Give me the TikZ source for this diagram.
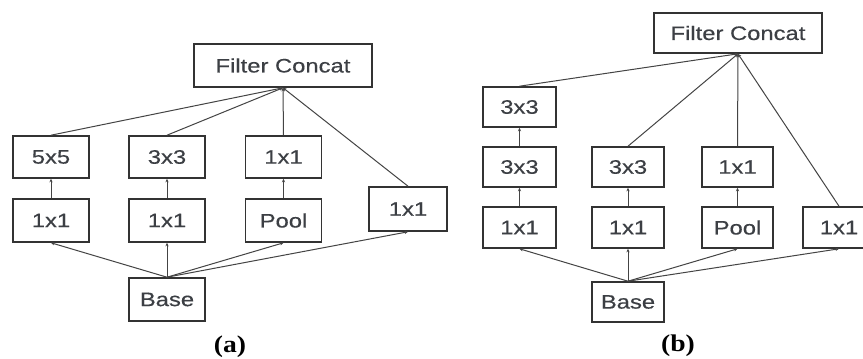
\documentclass[tikz,border=0pt]{standalone}
\usepackage{xcolor}
\usepackage{fontspec}
\usepackage{tikz}
\usetikzlibrary{arrows.meta}
\newfontfamily\boxfont[FakeStretch=1.22,FakeBold=0.4]{Liberation Sans}
\newfontfamily\capfont[FakeStretch=1.15]{Liberation Serif}
\definecolor{figLine}{HTML}{333333}
\definecolor{figText}{HTML}{3C3F44}
\definecolor{figArrow}{HTML}{444444}

\begin{document}
\begin{tikzpicture}[
  x=1pt, y=-1pt,
  layer/.style={draw=figLine, line width=1.6pt, inner sep=0pt,
    font=\boxfont\fontsize{19.5}{21}\selectfont, text=figText,
    minimum width=76pt, minimum height=42pt},
  link/.style={draw=figArrow, line width=1pt,
    -{Stealth[length=3.5pt,width=3.2pt]}},
  caption/.style={font=\capfont\bfseries\fontsize{24}{26}\selectfont, text=black},
]
\useasboundingbox (0,0) rectangle (863,359);
\fill[white] (0,0) rectangle (863,359);

% --- (a) boxes ---
\node[layer, minimum width=178pt, minimum height=43pt] (fcA) at (283,65.5) {Filter Concat};
\node[layer] (a55)   at (51,157)    {5x5};
\node[layer] (a33)   at (167,157)   {3x3};
\node[layer] (a11c)  at (283.5,157) {1x1};
\node[layer, minimum height=43pt] (a11a)  at (51,220.5)    {1x1};
\node[layer, minimum height=43pt] (a11b)  at (167,220.5)   {1x1};
\node[layer, minimum height=43pt] (apool) at (283.5,220.5) {Pool};
\node[layer, minimum width=78pt, minimum height=44pt] (a11d) at (408,209) {1x1};
\node[layer, minimum height=43pt] (baseA) at (167,299.5) {Base};
\node[caption] (capA) at (230,347) {(a)};

% --- (a) connectors ---
\foreach \src/\dst in {baseA/a11a, baseA/a11b, baseA/apool, baseA/a11d,
                       a11a/a55, a11b/a33, apool/a11c,
                       a55/fcA, a33/fcA, a11c/fcA, a11d/fcA} {
  \draw[link] (\src.north) -- (\dst.south);
}

% --- (b) boxes ---
\node[layer, minimum width=168pt, minimum height=40pt] (fcB) at (738,33) {Filter Concat};
\node[layer, minimum width=73pt, minimum height=40pt] (b33a)  at (519.5,107)   {3x3};
\node[layer, minimum width=73pt, minimum height=40pt] (b33b)  at (519.5,167)   {3x3};
\node[layer, minimum width=73pt, minimum height=41pt] (b11a)  at (519.5,227.5) {1x1};
\node[layer, minimum width=72pt, minimum height=40pt] (b33c)  at (628,167)     {3x3};
\node[layer, minimum width=72pt, minimum height=41pt] (b11b)  at (628,227.5)   {1x1};
\node[layer, minimum width=71pt, minimum height=40pt] (b11c)  at (737.5,167)   {1x1};
\node[layer, minimum width=71pt, minimum height=41pt] (bpool) at (737.5,227.5) {Pool};
\node[layer, minimum width=72pt, minimum height=41pt] (b11d)  at (839,227.5)   {1x1};
\node[layer, minimum width=72pt, minimum height=40pt] (baseB) at (628,302)     {Base};
\node[caption] (capB) at (678,346) {(b)};

% --- (b) connectors ---
\foreach \src/\dst in {baseB/b11a, baseB/b11b, baseB/bpool, baseB/b11d,
                       b11a/b33b, b33b/b33a, b11b/b33c, bpool/b11c,
                       b33a/fcB, b33c/fcB, b11c/fcB, b11d/fcB} {
  \draw[link] (\src.north) -- (\dst.south);
}

\end{tikzpicture}
\end{document}
